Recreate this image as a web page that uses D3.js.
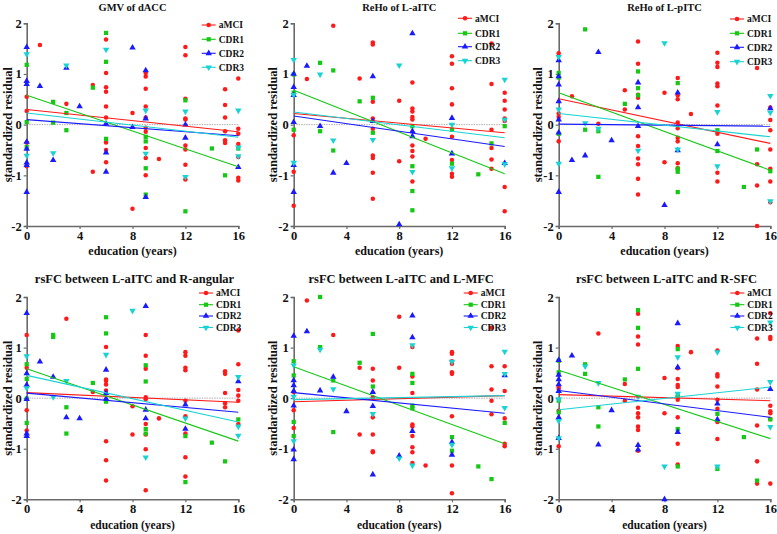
<!DOCTYPE html>
<html>
<head>
<meta charset="utf-8">
<script src="https://cdn.jsdelivr.net/npm/d3@7"></script>
<style>
  body { margin: 0; background: #fff; }
  svg text { font-family: "Liberation Serif", "Times New Roman", serif; font-weight: bold; }
</style>
</head>
<body>
<script>
// groups
var groups = ["aMCI", "CDR1", "CDR2", "CDR3"];
var groupColors = ["#ff1a1a", "#14c814", "#1a1aff", "#19d3d3"];
var xTicks = [0, 4, 8, 12, 16];
var yTicks = [-2, -1, 0, 1, 2];

var titles = ["GMV of dACC", "ReHo of L-aITC", "ReHo of L-pITC",
  "rsFC between L-aITC and R-angular", "rsFC between L-aITC and L-MFC", "rsFC between L-aITC and R-SFC"];

// GMV of dACC
var gmvAMCI = [[0,0.55],[0,0.27],[0,-0.35],[0,-0.82],[1,1.57],[3,0.41],[5,0.78],[5,-0.93],
  [6,1.68],[6,1.02],[6,0.74],[6,0.65],[6,0.36],[6,0.14],[6,-0.35],[6,-0.5],[6,-0.74],[8,0.23],[8,-1.66],
  [9,1.02],[9,0.95],[9,0.71],[9,0.36],[9,0.14],[9,-0.06],[9,-0.14],[9,-0.46],[9,-0.66],[9,-1.0],[10,-0.68],
  [12,1.53],[12,1.37],[12,0.51],[12,0.12],[12,0.1],[12,-0.41],[12,-0.49],[12,-0.79],[12,-1.08],
  [15,0.7],[15,0.39],[15,0.14],[15,-0.13],[15,-0.31],[15,-0.36],
  [16,0.91],[16,-0.08],[16,-0.18],[16,-0.38],[16,-0.64],[16,-1.05],[16,-1.1]];
var gmvCDR1 = [[0,1.18],[0,0.05],[0,-0.44],[2,0.45],[2,0.04],[3,0.23],[3,-0.11],[5,0.73],
  [6,1.81],[6,1.24],[6,-0.28],[9,-0.24],[9,-0.33],[9,-0.86],[9,-1.38],[12,0.48],[12,-1.71],
  [14,-0.47],[15,-1.0],[16,-0.47]];
var gmvCDR2 = [[0,1.53],[0,0.86],[0,0.8],[0,-0.34],[0,-0.48],[0,-0.75],[0,-0.8],[0,-1.33],[1,0.76],
  [2,-0.7],[3,1.12],[4,0.36],[6,0.02],[6,-0.55],[6,-0.93],[8,1.52],[8,-0.05],[9,1.07],[9,0.12],[9,-1.43],
  [12,0.0],[12,-0.26],[16,-0.84]];
var gmvCDR3 = [[0,1.39],[0,-0.61],[2,-0.56],[3,1.17],[6,1.48],[9,0.28],[9,-0.57],[12,0.26],[12,-1.03],
  [16,0.28],[16,-0.45],[16,-0.62]];
var gmvFit = [[0.3,-0.14],[0.58,-0.83],[0.1,-0.22],[0.23,-0.25]];

// ReHo of L-aITC
var rehoAAMCI = [[0,-0.21],[0,-0.93],[0,-1.6],[1,0.9],[3,1.95],[5,0.91],
  [6,1.62],[6,1.58],[6,0.45],[6,0.12],[6,-0.08],[6,-0.61],[6,-0.66],[6,-0.95],[6,-1.46],[8,0.47],[8,-0.72],
  [9,0.83],[9,0.32],[9,0.26],[9,0.15],[9,0.1],[9,-0.41],[9,-0.52],[9,-0.63],[9,-1.12],[10,-0.28],
  [12,1.35],[12,1.2],[12,0.72],[12,0.4],[12,-0.24],[12,-0.7],[12,-0.97],[12,-1.03],
  [15,1.6],[15,0.8],[15,-0.1],[15,-0.46],[15,-0.69],[15,-0.87],
  [16,0.63],[16,0.47],[16,0.3],[16,0.12],[16,0.07],[16,-1.23],[16,-1.71]];
var rehoACDR1 = [[0,0.99],[0,0.63],[0,-0.1],[2,1.22],[2,-0.13],[3,1.07],[3,-0.51],[5,0.46],
  [6,0.53],[6,-0.16],[9,-0.03],[9,-0.82],[9,-1.31],[9,-1.69],[12,-0.1],[12,-0.77],[14,-0.98],
  [15,-0.37],[16,-0.03]];
var rehoACDR2 = [[0,1.0],[0,0.74],[0,0.58],[0,0.05],[0,-0.8],[0,-1.33],[1,1.16],[2,-0.03],[3,-0.95],
  [4,-0.76],[6,0.95],[6,0.07],[8,-1.97],[9,1.8],[9,-0.13],[9,-0.23],[12,0.13],[12,-0.57],[16,-0.76]];
var rehoACDR3 = [[0,1.28],[0,0.59],[0,-0.75],[2,0.99],[3,-0.31],[6,-0.3],[8,1.17],[9,-0.93],
  [12,0.0],[12,-0.86],[16,0.89],[16,0.1],[16,-0.78]];
var rehoAFit = [[0.22,-0.16],[0.68,-0.97],[0.17,-0.43],[0.25,-0.26]];

// ReHo of L-pITC
var rehoPAMCI = [[0,1.41],[0,0.22],[0,0.15],[0,-0.33],[1,0.56],[3,0.02],[5,0.68],[5,0.3],
  [6,1.64],[6,1.2],[6,0.59],[6,0.53],[6,-0.23],[6,-0.42],[6,-0.67],[6,-0.78],[6,-1.07],[6,-1.38],
  [8,0.63],[8,-0.74],[9,0.92],[9,0.58],[9,0.5],[9,0.04],[9,-0.07],[9,-0.26],[9,-0.33],[9,-0.76],[9,-0.86],
  [10,0.21],[12,1.42],[12,1.22],[12,1.14],[12,0.81],[12,0.76],[12,0.38],[12,-0.18],[12,-0.95],[12,-1.12],
  [15,1.12],[15,-0.78],[15,-1.2],[15,-2.0],
  [16,0.34],[16,0.09],[16,-0.11],[16,-0.49],[16,-0.87],[16,-1.12],[16,-1.53]];
var rehoPCDR1 = [[0,1.02],[0,0.93],[0,-0.18],[2,1.88],[2,-0.1],[3,-0.13],[3,-1.03],[5,0.41],
  [6,1.05],[6,0.72],[6,0.58],[9,0.82],[9,-0.87],[9,-0.93],[9,-1.33],[12,-0.11],[12,-0.52],
  [14,-1.23],[15,-0.49],[16,-0.92]];
var rehoPCDR2 = [[0,1.27],[0,0.95],[0,0.79],[0,0.46],[0,0.1],[0,-0.16],[0,-1.33],[1,-0.7],[2,-0.61],
  [3,1.43],[4,-0.31],[6,0.83],[6,0.34],[6,-0.03],[8,-1.59],[9,0.63],[9,-0.51],[12,-0.39],[16,0.32]];
var rehoPCDR3 = [[0,1.34],[0,0.3],[0,-0.77],[2,0.03],[3,-0.08],[6,-0.51],[8,1.61],[9,-0.49],
  [12,0.25],[12,-0.82],[16,0.57],[16,0.24],[16,-1.51]];
var rehoPFit = [[0.51,-0.37],[0.63,-0.9],[0.01,-0.03],[0.22,-0.24]];

// rsFC L-aITC and R-angular
var angAMCI = [[0,1.25],[0,0.6],[0,-0.24],[0,-0.64],[3,1.57],[5,0.12],
  [6,1.01],[6,0.37],[6,0.34],[6,0.27],[6,0.15],[6,-0.85],[6,-1.23],[6,-1.63],[8,-0.16],[8,-0.72],
  [9,1.25],[9,0.84],[9,0.58],[9,0.02],[9,-0.02],[9,-0.51],[9,-0.72],[9,-1.01],[9,-1.82],[10,-0.4],
  [12,0.91],[12,0.84],[12,0.6],[12,0.55],[12,-0.05],[12,-0.36],[12,-0.7],[12,-1.17],[12,-1.55],
  [15,0.53],[15,0.48],[15,0.1],[15,-0.1],[15,-0.18],
  [16,1.34],[16,0.67],[16,0.16],[16,0.05],[16,-0.05],[16,-0.51]];
var angCDR1 = [[0,0.67],[0,0.38],[0,-0.01],[0,-0.49],[2,1.25],[2,1.21],[3,-0.18],[3,-0.7],[5,0.3],
  [6,1.6],[6,1.28],[6,-0.07],[9,0.65],[9,0.33],[9,-0.61],[9,-0.7],[12,-0.75],[12,-1.66],
  [14,-0.88],[15,-1.25],[16,-0.42]];
var angCDR2 = [[0,1.68],[0,0.49],[0,0.26],[0,-0.02],[0,-0.7],[0,-0.75],[1,0.72],[2,0.42],[3,-0.38],
  [4,-0.4],[6,0.56],[6,0.1],[6,-0.01],[9,1.82],[9,-0.23],[9,-0.4],[12,-0.13],[12,-0.61],[16,0.33]];
var angCDR3 = [[0,0.83],[0,0.2],[2,0.02],[3,0.34],[6,0.86],[8,1.73],[9,-1.17],[12,-0.4],
  [16,0.42],[16,-0.56],[16,-0.74]];
var angFit = [[0.11,-0.08],[0.58,-0.85],[0.1,-0.28],[0.45,-0.47]];

// rsFC L-aITC and L-MFC
var mfcAMCI = [[0,0.12],[0,-0.24],[0,-0.59],[1,1.93],[3,1.25],[5,0.6],[5,-0.72],
  [6,0.58],[6,0.35],[6,0.02],[6,-0.38],[6,-0.72],[6,-1.05],[6,-1.07],[8,1.61],[8,0.6],
  [9,1.01],[9,0.43],[9,0.1],[9,-0.52],[9,-0.56],[9,-0.75],[9,-0.97],[9,-1.07],[9,-1.28],[10,-1.33],
  [12,0.91],[12,0.88],[12,0.73],[12,0.68],[12,0.51],[12,0.48],[12,-0.36],[12,-0.9],[12,-1.33],[12,-1.88],
  [15,1.39],[15,0.63],[15,0.17],[15,-0.05],[15,-0.32],
  [16,0.63],[16,0.14],[16,-0.4],[16,-0.9],[16,-0.95]];
var mfcCDR1 = [[0,0.73],[0,0.45],[0,-0.47],[0,-0.75],[2,2.0],[2,1.01],[3,0.35],[3,-0.67],[5,0.7],
  [6,1.27],[6,0.23],[9,0.48],[9,0.3],[9,-0.15],[9,-0.2],[12,-0.77],[12,-1.04],[14,-1.35],
  [15,-1.6],[16,-0.49]];
var mfcCDR2 = [[0,1.23],[0,0.35],[0,0.25],[0,0.14],[0,-0.15],[0,-1.02],[0,-1.21],[1,1.32],[2,0.15],
  [3,0.42],[4,-0.26],[6,0.12],[6,-0.16],[6,-1.51],[8,-1.14],[9,1.63],[9,1.2],[9,-0.65],
  [12,-0.87],[12,-1.12],[16,0.45]];
var mfcCDR3 = [[0,0.65],[0,0.03],[0,-0.85],[2,0.96],[3,0.18],[6,-0.31],[8,-1.19],[9,1.05],[9,-1.33],
  [12,0.72],[12,-0.92],[16,0.92],[16,0.48],[16,-0.19]];
var mfcFit = [[-0.07,0.05],[0.62,-0.9],[0.11,-0.3],[-0.03,0.05]];

// rsFC L-aITC and R-SFC
var sfcAMCI = [[0,0.22],[0,0.18],[0,-0.25],[0,-0.95],[3,1.28],[5,0.28],[5,-0.05],
  [6,1.67],[6,1.22],[6,1.06],[6,-0.19],[6,-0.3],[6,-0.38],[6,-0.56],[6,-0.63],[6,-1.04],[8,0.4],[8,-0.3],
  [9,1.03],[9,0.59],[9,0.38],[9,0.26],[9,0.22],[9,0.03],[9,-0.03],[9,-0.38],[9,-0.9],[9,-1.31],[10,0.91],
  [12,0.94],[12,0.47],[12,0.43],[12,0.23],[12,-0.03],[12,-0.21],[12,-0.47],[12,-0.81],
  [15,1.18],[15,0.68],[15,0.17],[15,-0.54],[15,-1.25],[15,-1.69],
  [16,1.68],[16,1.21],[16,1.17],[16,-0.15],[16,-0.26],[16,-0.3],[16,-0.41],[16,-1.69]];
var sfcCDR1 = [[0,0.74],[0,0.51],[0,-0.05],[0,-0.28],[2,0.67],[2,0.48],[3,-0.18],[3,-0.56],[5,0.37],
  [6,1.74],[6,1.39],[6,0.58],[9,0.97],[9,0.05],[9,-0.61],[9,-1.35],[12,-0.31],[12,-1.4],
  [14,-0.77],[15,-1.63],[16,-0.42]];
var sfcCDR2 = [[0,0.75],[0,0.46],[0,0.37],[0,0.27],[0,0.14],[0,-0.38],[0,-0.79],[1,0.84],[3,-0.92],
  [4,-0.24],[6,-0.93],[6,-1.02],[8,-2.0],[9,1.48],[9,0.61],[9,-0.67],[12,-0.11],[12,-0.42],[16,0.18]];
var sfcCDR3 = [[0,-0.02],[0,-0.45],[0,-0.79],[2,0.63],[3,0.3],[6,0.03],[8,-1.35],[9,0.81],[9,0.09],
  [12,0.91],[12,-1.35],[16,1.5],[16,0.32],[16,-0.57]];
var sfcFit = [[0.07,-0.05],[0.55,-0.8],[0.15,-0.38],[-0.23,0.22]];

var panelPoints = [
  [gmvAMCI, gmvCDR1, gmvCDR2, gmvCDR3],
  [rehoAAMCI, rehoACDR1, rehoACDR2, rehoACDR3],
  [rehoPAMCI, rehoPCDR1, rehoPCDR2, rehoPCDR3],
  [angAMCI, angCDR1, angCDR2, angCDR3],
  [mfcAMCI, mfcCDR1, mfcCDR2, mfcCDR3],
  [sfcAMCI, sfcCDR1, sfcCDR2, sfcCDR3]
];
var panelFits = [gmvFit, rehoAFit, rehoPFit, angFit, mfcFit, sfcFit];

// layout (pixels)
var colLeft = [26.7, 293.7, 558.7];
var colRight = [238.3, 504.7, 770.3];
var rowTop = [23.3, 297];
var rowBottom = [226, 499.3];
var yLabelX = [8, 273, 538];
var legendOffset = [-36.6, -46.7, -40.3, -39.3, -41, -40];
var legendRows = [[25, 39.3, 53.3, 67.3], [18.3, 33.3, 46.7, 60.7], [19, 33.3, 47.3, 61.7],
  [293, 304.7, 316, 327.5], [293, 304.7, 316, 327.5], [293, 304.7, 316, 327.5]];

var svg = d3.select("body").append("svg")
  .attr("width", 777)
  .attr("height", 534);

var symbolTypes = [d3.symbolCircle, d3.symbolSquare, d3.symbolTriangle, d3.symbolTriangle];
var symbolSizes = [16, 18, 18, 18];

function marker(sel, gi) {
  sel.attr("d", d3.symbol().type(symbolTypes[gi]).size(symbolSizes[gi])())
    .attr("fill", groupColors[gi]);
}

panelPoints.forEach(function (pts, p) {
  var col = p % 3, row = Math.floor(p / 3);
  var x = d3.scaleLinear().domain([0, 16]).range([colLeft[col], colRight[col]]);
  var y = d3.scaleLinear().domain([-2, 2]).range([rowBottom[row], rowTop[row]]);
  var g = svg.append("g");

  // zero reference line
  g.append("line")
    .attr("x1", x(0)).attr("x2", x(16))
    .attr("y1", y(0)).attr("y2", y(0))
    .attr("stroke", "#999")
    .attr("stroke-width", 0.8)
    .attr("stroke-dasharray", "1.5,1");

  // axes
  var ya = g.append("g")
    .attr("transform", "translate(" + x(0) + ",0)")
    .call(d3.axisLeft(y).tickValues(yTicks).tickSize(3).tickPadding(2).tickFormat(d3.format("d")));
  var xa = g.append("g")
    .attr("transform", "translate(0," + y(-2) + ")")
    .call(d3.axisBottom(x).tickValues(xTicks).tickSize(3).tickPadding(2));
  [ya, xa].forEach(function (a) {
    a.select(".domain").attr("stroke", "#6a6a6a").attr("stroke-width", 1.6);
    a.selectAll(".tick line").attr("stroke", "#6a6a6a").attr("stroke-width", 1.2);
    a.selectAll(".tick text")
      .attr("fill", "#111")
      .style("font-size", "12.5px")
      .style("font-family", "'Liberation Serif', serif")
      .style("font-weight", "bold")
      .text(function (d) { return d < 0 ? "-" + (-d) : d; });
  });

  // points
  pts.forEach(function (series, gi) {
    g.append("g").selectAll("path")
      .data(series)
      .enter().append("path")
      .attr("transform", function (d) {
        return "translate(" + x(d[0]) + "," + y(d[1]) + ")" + (gi === 3 ? " rotate(180)" : "");
      })
      .call(marker, gi);
  });

  // fitted lines
  panelFits[p].forEach(function (f, gi) {
    g.append("line")
      .attr("x1", x(0)).attr("y1", y(f[0]))
      .attr("x2", x(16)).attr("y2", y(f[1]))
      .attr("stroke", groupColors[gi])
      .attr("stroke-width", 1.1);
  });

  // title
  g.append("text")
    .attr("x", (colLeft[col] + colRight[col]) / 2 + (row === 0 ? 0 : 2))
    .attr("y", row === 0 ? 11 : 283)
    .attr("text-anchor", "middle")
    .style("font-size", row === 0 ? "10.5px" : "12.5px")
    .attr("fill", "#111")
    .text(titles[p]);

  // axis labels
  g.append("text")
    .attr("x", (colLeft[col] + colRight[col]) / 2)
    .attr("y", row === 0 ? 255 : 529)
    .attr("text-anchor", "middle")
    .style("font-size", row === 0 ? "12px" : "11.5px")
    .attr("fill", "#111")
    .text("education (years)");
  g.append("text")
    .attr("transform", "translate(" + yLabelX[col] + "," + (rowTop[row] + rowBottom[row]) / 2 + ") rotate(-90)")
    .attr("text-anchor", "middle")
    .attr("dy", "0.35em")
    .style("font-size", "12.5px")
    .attr("fill", "#111")
    .text("standardized residual");

  // legend
  var lx = colRight[col] + legendOffset[p];
  groups.forEach(function (name, gi) {
    var ly = legendRows[p][gi];
    g.append("line")
      .attr("x1", lx).attr("x2", lx + 14)
      .attr("y1", ly).attr("y2", ly)
      .attr("stroke", groupColors[gi])
      .attr("stroke-width", 1.1);
    g.append("path")
      .attr("transform", "translate(" + (lx + 7) + "," + ly + ")" + (gi === 3 ? " rotate(180)" : ""))
      .call(marker, gi);
    g.append("text")
      .attr("x", lx + 17)
      .attr("y", ly)
      .attr("dy", "0.35em")
      .style("font-size", "9.5px")
      .attr("fill", "#111")
      .text(name);
  });
});
</script>
</body>
</html>
